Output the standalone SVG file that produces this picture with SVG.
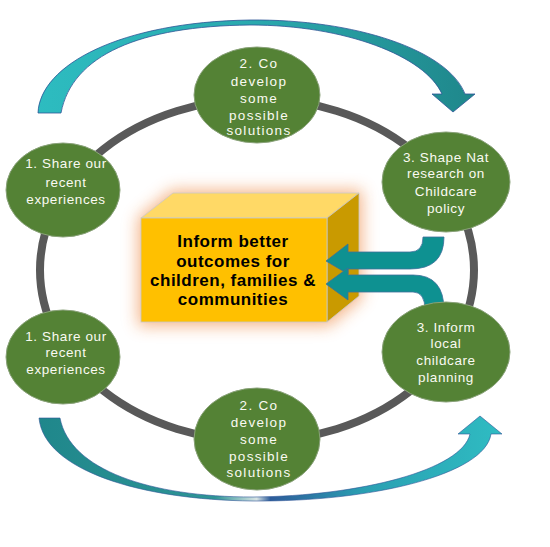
<svg xmlns="http://www.w3.org/2000/svg" width="550" height="547" viewBox="0 0 550 547">
<defs>
<style>
.node ellipse{fill:#548235;stroke:#8AA27A;stroke-width:1}
.node text{font-family:"Liberation Sans",Arial,sans-serif;font-size:13.5px;fill:#FAFAF2;text-anchor:middle;letter-spacing:0.6px}
.wide text{letter-spacing:1.3px}
.box text{font-family:"Liberation Sans",Arial,sans-serif;font-size:17px;font-weight:bold;fill:#000;text-anchor:middle;letter-spacing:0.5px}
.teal{fill:#0E9191;stroke:#3F6E9A;stroke-width:0.8}
</style>
<linearGradient id="gTop" x1="0" y1="0" x2="1" y2="0">
<stop offset="0" stop-color="#2DBCC0"/>
<stop offset="0.5" stop-color="#2AA9AE"/>
<stop offset="1" stop-color="#1F878B"/>
</linearGradient>
<linearGradient id="gBot" x1="0" y1="0" x2="1" y2="0">
<stop offset="0" stop-color="#1F878B"/>
<stop offset="0.38" stop-color="#2E9496"/>
<stop offset="0.47" stop-color="#D8E4E4"/>
<stop offset="0.5" stop-color="#2D5C9A"/>
<stop offset="0.7" stop-color="#2A9FB2"/>
<stop offset="1" stop-color="#2FBCC2"/>
</linearGradient>
<filter id="glow" x="-30%" y="-30%" width="160%" height="160%">
<feGaussianBlur stdDeviation="8"/>
</filter>
</defs>
<rect width="550" height="547" fill="#FFFFFF"/>

<g id="connectors">
<ellipse id="ring" cx="257" cy="270" rx="217" ry="171" fill="none" stroke="#595959" stroke-width="8"/>
<path id="arrow-top" d="M38,113 C40,65 120,22 250,20 C355,19 448,50 465,94 L475,94 L453,112 L432,94 L442,94 C425,56 345,25 250,25 C140,26 72,55 61,113 Z" fill="url(#gTop)" stroke="#2F5597" stroke-width="0.8"/>
<path id="arrow-bottom" d="M39,418 C44,470 140,500 253,501 C370,502 485,475 491,434 L502,434 L480,416 L458,434 L470,434 C462,470 360,496 253,497 C150,497 70,470 60,418 Z" fill="url(#gBot)" stroke="#2F5597" stroke-width="0.6"/>
</g>

<g id="box" class="box">
<polygon points="138,218 172,190 362,190 362,298 329,326 138,326" fill="#F4B183" opacity="0.95" filter="url(#glow)"/>
<polygon points="141,218 173,193 359,193 327,218" fill="#FFD966" stroke="#C9C9C9" stroke-width="0.8"/>
<polygon points="327,218 359,193 359,296 327,322" fill="#C99A00" stroke="#C9C9C9" stroke-width="0.8"/>
<rect x="141" y="218" width="186" height="104" fill="#FFC000" stroke="#C9C9C9" stroke-width="0.8"/>
<text x="233" y="247">Inform better</text>
<text x="233" y="267">outcomes for</text>
<text x="233" y="286">children, families &amp;</text>
<text x="233" y="305">communities</text>
</g>

<g id="feed-arrows">
<path class="teal" d="M326,261 L348,244 L348,252 L410,252 Q423,252 423,237 L444,237 Q444,269 410,269 L348,269 L348,274 Z"/>
<path class="teal" d="M326,284 L348,268 L348,275 L413,275 Q444,275 444,310 L425,310 Q425,292 413,292 L348,292 L348,300 Z"/>
</g>

<g id="node-top" class="node wide">
<ellipse cx="257" cy="95" rx="63" ry="48"/>
<text x="259" y="68">2. Co</text>
<text x="259" y="86">develop</text>
<text x="259" y="103">some</text>
<text x="259" y="120">possible</text>
<text x="259" y="135">solutions</text>
</g>

<g id="node-left-top" class="node">
<ellipse cx="63" cy="190" rx="57" ry="47"/>
<text x="66" y="168">1. Share  our</text>
<text x="66" y="187">recent</text>
<text x="66" y="204">experiences</text>
</g>

<g id="node-left-bottom" class="node">
<ellipse cx="63" cy="357" rx="57" ry="47"/>
<text x="66" y="341">1. Share our</text>
<text x="66" y="357">recent</text>
<text x="66" y="374">experiences</text>
</g>

<g id="node-right-top" class="node">
<ellipse cx="446" cy="182" rx="64" ry="50"/>
<text x="446" y="162">3. Shape Nat</text>
<text x="446" y="178">research  on</text>
<text x="446" y="196">Childcare</text>
<text x="446" y="213">policy</text>
</g>

<g id="node-right-bottom" class="node">
<ellipse cx="446" cy="352" rx="64" ry="50"/>
<text x="446" y="332">3. Inform</text>
<text x="446" y="348">local</text>
<text x="446" y="365">childcare</text>
<text x="446" y="382">planning</text>
</g>

<g id="node-bottom" class="node wide">
<ellipse cx="257" cy="439" rx="63" ry="51"/>
<text x="259" y="410">2. Co</text>
<text x="259" y="427">develop</text>
<text x="259" y="444">some</text>
<text x="259" y="461">possible</text>
<text x="259" y="477">solutions</text>
</g>
</svg>
